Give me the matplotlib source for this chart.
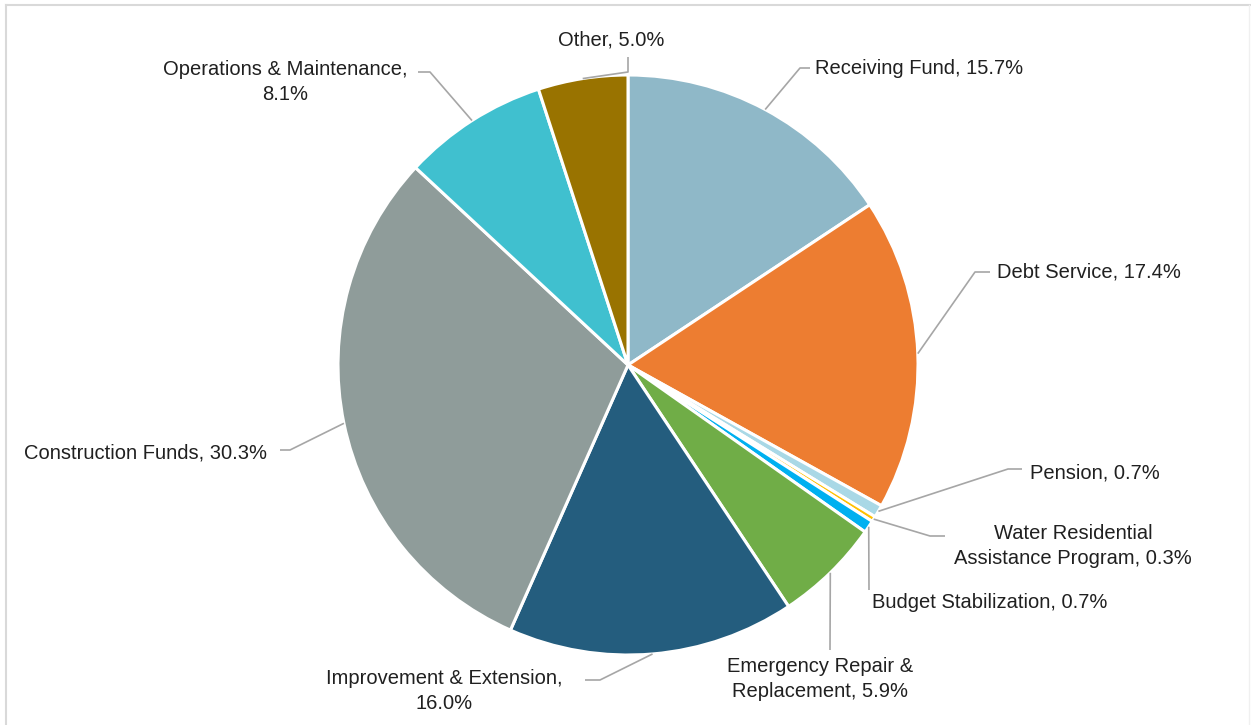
import numpy as np
import matplotlib.pyplot as plt
from matplotlib.lines import Line2D

plt.rcParams['font.family'] = ['Liberation Sans', 'DejaVu Sans']

categories = ['Receiving Fund', 'Debt Service', 'Pension',
              'Water Residential\nAssistance Program', 'Budget Stabilization',
              'Emergency Repair &\nReplacement', 'Improvement & Extension,\n',
              'Construction Funds', 'Operations & Maintenance,\n', 'Other']
shares = [15.7, 17.4, 0.7, 0.3, 0.7, 5.9, 16.0, 30.3, 8.1, 5.0]
colors = ['#8fb8c8', '#ed7d31', '#a9d8e6', '#ffc000', '#00b0f0',
          '#70ad47', '#245d7e', '#8f9c9a', '#40c0cf', '#997300']

W, H = 1251, 725
CX, CY, R = 628, H - 365, 290

fig = plt.figure(figsize=(W / 100, H / 100), dpi=100)
ax = fig.add_axes([0, 0, 1, 1])
ax.axis('off')

wedges, _ = ax.pie(shares, colors=colors, startangle=90, counterclock=False,
                   center=(CX, CY), radius=R, normalize=True,
                   wedgeprops=dict(edgecolor='white', linewidth=2.2))
ax.set_xlim(0, W)
ax.set_ylim(0, H)
ax.set_aspect('equal')


def label_text(i):
    name = categories[i]
    pct = '%.1f%%' % shares[i]
    if name.endswith(',\n'):
        return name + pct
    return name + ', ' + pct


# leader line elbows and label anchors in pixel space (y from top)
# (elbow x, elbow y, end x, end y, text x, text y, ha)
leaders = [
    (800, 68, 810, 68, 815, 68, 'left'),
    (975, 272, 990, 272, 997, 272, 'left'),
    (1008, 469, 1022, 469, 1030, 473, 'left'),
    (930, 536, 945, 536, 1073, 546, 'center'),
    (869, 590, 869, 590, 872, 603, 'left'),
    (830, 650, 830, 650, 820, 679, 'center'),
    (600, 680, 585, 680, 444, 691, 'center'),
    (290, 450, 280, 450, 146, 453, 'center'),
    (430, 72, 418, 72, 285, 82, 'center'),
    (628, 72, 628, 57, 611, 40, 'center'),
]

cum = 0.0
total = sum(shares)
for i, (ex, ey, fx, fy, tx, ty, ha) in enumerate(leaders):
    mid = 90 - 360 * (cum + shares[i] / 2) / total
    cum += shares[i]
    px = CX + R * np.cos(np.radians(mid))
    py = CY + R * np.sin(np.radians(mid))
    ax.plot([px, ex, fx], [py, H - ey, H - fy], color='#a6a6a6', lw=1.2,
            solid_capstyle='butt')
    ax.text(tx, H - ty, label_text(i), ha=ha, va='center', fontsize=14.5,
            color='#202020', linespacing=1.4)

# light frame
fig.add_artist(Line2D([6 / W, 1], [1 - 5 / H, 1 - 5 / H], color='#d9d9d9', lw=1.5))
fig.add_artist(Line2D([6 / W, 6 / W], [0, 1 - 5 / H], color='#d9d9d9', lw=1.5))
fig.add_artist(Line2D([1249 / W, 1249 / W], [0, 1 - 5 / H], color='#f0f0f0', lw=1))

fig.savefig('out.png', dpi=100, facecolor='white')
